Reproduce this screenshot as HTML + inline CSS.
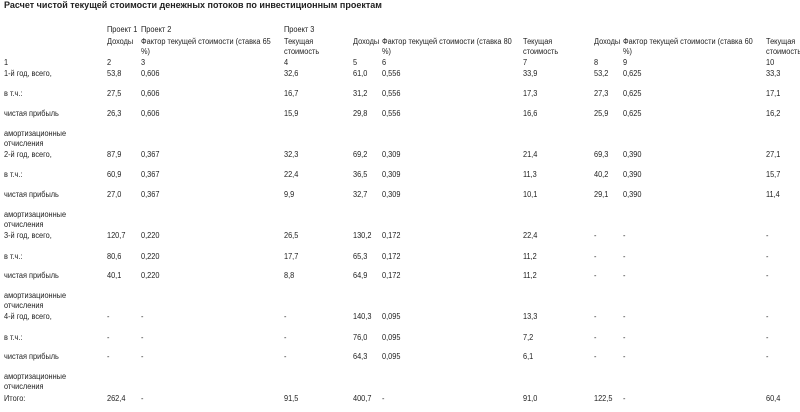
<!DOCTYPE html>
<html><head><meta charset="utf-8"><style>
body{margin:0;width:800px;height:412px;background:#fff;position:relative;overflow:hidden;font-family:"Liberation Sans",Arial,sans-serif;font-size:8px;color:#222;}
.r{position:absolute;left:0;width:800px;height:11px;line-height:11px;}
.r span{position:absolute;top:0;white-space:nowrap;transform:scaleX(0.92);transform-origin:0 0;}
.a{left:4px}.b{left:107px}.c{left:141px}.d{left:284px}.e{left:353px}.f{left:382px}.g{left:523px}.h{left:594px}.i{left:623px}.j{left:766px}
.t{position:absolute;left:4px;top:0px;font-weight:bold;font-size:9px;line-height:11px;}
</style></head><body>
<div class="t">Расчет чистой текущей стоимости денежных потоков по инвестиционным проектам</div>
<div class="r" style="top:24px"><span class="b">Проект 1</span><span class="c">Проект 2</span><span class="d">Проект 3</span></div>
<div class="r" style="top:36px"><span class="b">Доходы</span><span class="c">Фактор текущей стоимости (ставка 65</span><span class="d">Текущая</span><span class="e">Доходы</span><span class="f">Фактор текущей стоимости (ставка 80</span><span class="g">Текущая</span><span class="h">Доходы</span><span class="i">Фактор текущей стоимости (ставка 60</span><span class="j">Текущая</span></div>
<div class="r" style="top:46px"><span class="c">%)</span><span class="d">стоимость</span><span class="f">%)</span><span class="g">стоимость</span><span class="i">%)</span><span class="j">стоимость</span></div>
<div class="r" style="top:57px"><span class="a">1</span><span class="b">2</span><span class="c">3</span><span class="d">4</span><span class="e">5</span><span class="f">6</span><span class="g">7</span><span class="h">8</span><span class="i">9</span><span class="j">10</span></div>

<div class="r" style="top:68px"><span class="a">1-й год, всего,</span><span class="b">53,8</span><span class="c">0,606</span><span class="d">32,6</span><span class="e">61,0</span><span class="f">0,556</span><span class="g">33,9</span><span class="h">53,2</span><span class="i">0,625</span><span class="j">33,3</span></div>
<div class="r" style="top:88px"><span class="a">в т.ч.:</span><span class="b">27,5</span><span class="c">0,606</span><span class="d">16,7</span><span class="e">31,2</span><span class="f">0,556</span><span class="g">17,3</span><span class="h">27,3</span><span class="i">0,625</span><span class="j">17,1</span></div>
<div class="r" style="top:108px"><span class="a">чистая прибыль</span><span class="b">26,3</span><span class="c">0,606</span><span class="d">15,9</span><span class="e">29,8</span><span class="f">0,556</span><span class="g">16,6</span><span class="h">25,9</span><span class="i">0,625</span><span class="j">16,2</span></div>
<div class="r" style="top:128px"><span class="a">амортизационные</span></div>
<div class="r" style="top:138px"><span class="a">отчисления</span></div>

<div class="r" style="top:149px"><span class="a">2-й год, всего,</span><span class="b">87,9</span><span class="c">0,367</span><span class="d">32,3</span><span class="e">69,2</span><span class="f">0,309</span><span class="g">21,4</span><span class="h">69,3</span><span class="i">0,390</span><span class="j">27,1</span></div>
<div class="r" style="top:169px"><span class="a">в т.ч.:</span><span class="b">60,9</span><span class="c">0,367</span><span class="d">22,4</span><span class="e">36,5</span><span class="f">0,309</span><span class="g">11,3</span><span class="h">40,2</span><span class="i">0,390</span><span class="j">15,7</span></div>
<div class="r" style="top:189px"><span class="a">чистая прибыль</span><span class="b">27,0</span><span class="c">0,367</span><span class="d">9,9</span><span class="e">32,7</span><span class="f">0,309</span><span class="g">10,1</span><span class="h">29,1</span><span class="i">0,390</span><span class="j">11,4</span></div>
<div class="r" style="top:209px"><span class="a">амортизационные</span></div>
<div class="r" style="top:219px"><span class="a">отчисления</span></div>

<div class="r" style="top:230px"><span class="a">3-й год, всего,</span><span class="b">120,7</span><span class="c">0,220</span><span class="d">26,5</span><span class="e">130,2</span><span class="f">0,172</span><span class="g">22,4</span><span class="h">-</span><span class="i">-</span><span class="j">-</span></div>
<div class="r" style="top:251px"><span class="a">в т.ч.:</span><span class="b">80,6</span><span class="c">0,220</span><span class="d">17,7</span><span class="e">65,3</span><span class="f">0,172</span><span class="g">11,2</span><span class="h">-</span><span class="i">-</span><span class="j">-</span></div>
<div class="r" style="top:270px"><span class="a">чистая прибыль</span><span class="b">40,1</span><span class="c">0,220</span><span class="d">8,8</span><span class="e">64,9</span><span class="f">0,172</span><span class="g">11,2</span><span class="h">-</span><span class="i">-</span><span class="j">-</span></div>
<div class="r" style="top:290px"><span class="a">амортизационные</span></div>
<div class="r" style="top:300px"><span class="a">отчисления</span></div>

<div class="r" style="top:311px"><span class="a">4-й год, всего,</span><span class="b">-</span><span class="c">-</span><span class="d">-</span><span class="e">140,3</span><span class="f">0,095</span><span class="g">13,3</span><span class="h">-</span><span class="i">-</span><span class="j">-</span></div>
<div class="r" style="top:332px"><span class="a">в т.ч.:</span><span class="b">-</span><span class="c">-</span><span class="d">-</span><span class="e">76,0</span><span class="f">0,095</span><span class="g">7,2</span><span class="h">-</span><span class="i">-</span><span class="j">-</span></div>
<div class="r" style="top:351px"><span class="a">чистая прибыль</span><span class="b">-</span><span class="c">-</span><span class="d">-</span><span class="e">64,3</span><span class="f">0,095</span><span class="g">6,1</span><span class="h">-</span><span class="i">-</span><span class="j">-</span></div>
<div class="r" style="top:371px"><span class="a">амортизационные</span></div>
<div class="r" style="top:381px"><span class="a">отчисления</span></div>

<div class="r" style="top:393px"><span class="a">Итого:</span><span class="b">262,4</span><span class="c">-</span><span class="d">91,5</span><span class="e">400,7</span><span class="f">-</span><span class="g">91,0</span><span class="h">122,5</span><span class="i">-</span><span class="j">60,4</span></div>
</body></html>
